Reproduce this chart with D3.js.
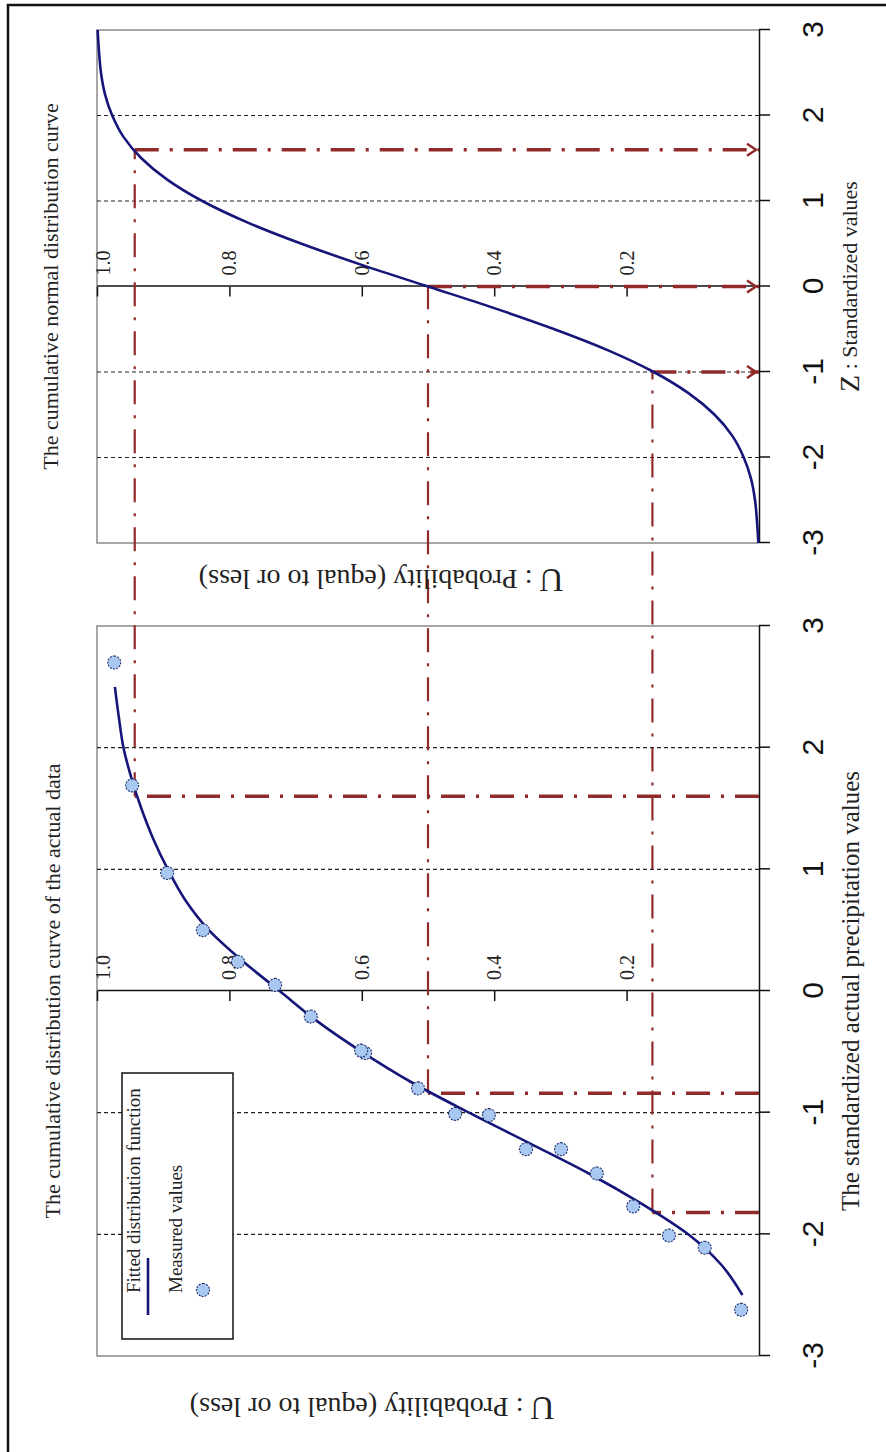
<!DOCTYPE html>
<html>
<head>
<meta charset="utf-8">
<script src="https://cdn.jsdelivr.net/npm/d3@7"></script>
<style>
  body { margin: 0; background: #fff; }
</style>
</head>
<body>
<div id="vis"></div>
<script>
// ticks
const zTicks = [-3, -2, -1, 0, 1, 2, 3];
const zGrid = [-2, -1, 1, 2];
const pTicks = [0.2, 0.4, 0.6, 0.8, 1.0];

// cumulative normal distribution curve (right panel)
const normalZ = [-3, -2.75, -2.5, -2.25, -2, -1.75, -1.5, -1.25, -1, -0.75, -0.5, -0.25, 0,
  0.25, 0.5, 0.75, 1, 1.25, 1.5, 1.75, 2, 2.25, 2.5, 2.75, 3];
const normalP = [0.001, 0.003, 0.006, 0.012, 0.023, 0.040, 0.067, 0.106, 0.159, 0.227, 0.309, 0.401, 0.5,
  0.599, 0.691, 0.773, 0.841, 0.894, 0.933, 0.960, 0.977, 0.988, 0.994, 0.997, 0.999];

// fitted distribution function of the actual data (left panel)
const fittedZ = [-2.5, -2.25, -2, -1.75, -1.5, -1.25, -1, -0.75, -0.5, -0.25, 0,
  0.25, 0.5, 0.75, 1, 1.25, 1.5, 1.75, 2, 2.25, 2.5];
const fittedP = [0.025, 0.057, 0.107, 0.177, 0.257, 0.347, 0.438, 0.525, 0.600, 0.667, 0.724,
  0.781, 0.831, 0.867, 0.893, 0.915, 0.933, 0.948, 0.960, 0.967, 0.973];

// measured values
const measuredZ = [-2.62, -2.11, -2.01, -1.77, -1.50, -1.30, -1.30, -1.02, -1.01, -0.80, -0.51, -0.49,
  -0.21, 0.05, 0.24, 0.50, 0.97, 1.69, 2.70];
const measuredP = [0.027, 0.082, 0.136, 0.190, 0.245, 0.299, 0.352, 0.408, 0.459, 0.515, 0.595, 0.601,
  0.677, 0.731, 0.787, 0.840, 0.894, 0.947, 0.974];

// reading lines: actual value -> probability -> standardized normal value
const readP = [0.943, 0.5, 0.161];
const readActualZ = [1.6, -0.84, -1.82];
const readNormalZ = [1.6, 0, -1];

const W = 886, H = 1452;
const serif = "'Liberation Serif','Times New Roman',serif";
const sans = "'Liberation Sans',Arial,sans-serif";
const navy = "#16167a";
const red = "#912b2b";

const svg = d3.select("#vis").append("svg")
  .attr("width", W)
  .attr("height", H)
  .style("display", "block");

svg.append("rect").attr("width", W).attr("height", H).attr("fill", "#fff");
svg.append("rect")
  .attr("x", 8).attr("y", 5)
  .attr("width", 900).attr("height", 1470)
  .attr("fill", "none").attr("stroke", "#111").attr("stroke-width", 2.5);

svg.append("defs").append("marker")
  .attr("id", "arrow")
  .attr("viewBox", "0 -8 14 16")
  .attr("refX", 13).attr("refY", 0)
  .attr("markerWidth", 14).attr("markerHeight", 16)
  .attr("markerUnits", "userSpaceOnUse")
  .attr("orient", "auto")
  .append("path")
  .attr("d", "M1,-6L10,0L1,6")
  .attr("fill", "none")
  .attr("stroke", red)
  .attr("stroke-width", 2.5);

// the chart is drawn upright and then turned a quarter turn to the left
const g = svg.append("g").attr("transform", `translate(0,${H}) rotate(-90)`);

// probability runs down the page of the upright chart, Z runs across
const p = d3.scaleLinear().domain([0, 1]).range([759, 97]);
const zActual = d3.scaleLinear().domain([-3, 3]).range([96, 826]);
const zNormal = d3.scaleLinear().domain([-3, 3]).range([909, 1422]);

function drawPanel(z) {
  const pg = g.append("g");

  // frame
  pg.append("path")
    .attr("d", `M${z(-3)},${p(0)}V${p(1)}H${z(3)}V${p(0)}`)
    .attr("fill", "none")
    .attr("stroke", "#8a8a8a")
    .attr("stroke-width", 1.5);

  // dotted grid at whole Z values
  pg.append("g").selectAll("line")
    .data(zGrid)
    .join("line")
    .attr("x1", (d) => z(d)).attr("x2", (d) => z(d))
    .attr("y1", p(1)).attr("y2", p(0))
    .attr("stroke", "#222")
    .attr("stroke-width", 1.2)
    .attr("stroke-dasharray", "4,3");

  // Z axis
  const ax = pg.append("g")
    .attr("transform", `translate(0,${p(0)})`)
    .call(
      d3.axisBottom(z)
        .tickValues(zTicks)
        .tickSizeInner(11)
        .tickSizeOuter(0)
        .tickPadding(32)
        .tickFormat((d) => String(d))
    );
  ax.select(".domain").attr("stroke", "#111").attr("stroke-width", 1.5);
  ax.selectAll(".tick line").attr("stroke", "#111").attr("stroke-width", 1.5);
  ax.selectAll("text")
    .attr("font-family", sans)
    .attr("font-size", 30)
    .attr("fill", "#111");

  // probability axis along Z = 0
  const pa = pg.append("g")
    .attr("transform", `translate(${z(0)},0)`)
    .call(
      d3.axisRight(p)
        .tickValues(pTicks)
        .tickSizeInner(-10)
        .tickSizeOuter(0)
        .tickPadding(11)
        .tickFormat(d3.format(".1f"))
    );
  pa.select(".domain").attr("stroke", "#111").attr("stroke-width", 1.5);
  pa.selectAll(".tick line").attr("stroke", "#111").attr("stroke-width", 1.5);
  pa.selectAll("text")
    .attr("font-family", serif)
    .attr("font-size", 20)
    .attr("fill", "#222")
    .attr("dy", (d) => (d === 1 ? "0.6em" : "0.32em"));

  return pg;
}

drawPanel(zActual);
drawPanel(zNormal);

// reading lines
const reads = readP.map((d, i) => ({ p: d, za: readActualZ[i], zn: readNormalZ[i] }));
const dash = "24,11,3,11";

g.append("g").selectAll("line")
  .data(reads)
  .join("line")
  .attr("x1", (d) => zActual(d.za)).attr("x2", (d) => zActual(d.za))
  .attr("y1", p(0)).attr("y2", (d) => p(d.p))
  .attr("stroke", red).attr("stroke-width", 3.5)
  .attr("stroke-dasharray", dash);

g.append("g").selectAll("line")
  .data(reads)
  .join("line")
  .attr("x1", (d) => zActual(d.za)).attr("x2", (d) => zNormal(d.zn))
  .attr("y1", (d) => p(d.p)).attr("y2", (d) => p(d.p))
  .attr("stroke", red).attr("stroke-width", 2.2)
  .attr("stroke-dasharray", dash);

g.append("g").selectAll("line")
  .data(reads)
  .join("line")
  .attr("x1", (d) => zNormal(d.zn)).attr("x2", (d) => zNormal(d.zn))
  .attr("y1", (d) => p(d.p)).attr("y2", p(0))
  .attr("stroke", red).attr("stroke-width", 3.5)
  .attr("stroke-dasharray", dash)
  .attr("marker-end", "url(#arrow)");

// curves
const normalLine = d3.line()
  .x((d, i) => zNormal(normalZ[i]))
  .y((d) => p(d))
  .curve(d3.curveMonotoneX);

g.append("path")
  .attr("d", normalLine(normalP))
  .attr("fill", "none")
  .attr("stroke", navy)
  .attr("stroke-width", 2.6);

const fittedLine = d3.line()
  .x((d, i) => zActual(fittedZ[i]))
  .y((d) => p(d))
  .curve(d3.curveMonotoneX);

g.append("path")
  .attr("d", fittedLine(fittedP))
  .attr("fill", "none")
  .attr("stroke", navy)
  .attr("stroke-width", 2.6);

// measured points
g.append("g").selectAll("circle")
  .data(measuredP)
  .join("circle")
  .attr("cx", (d, i) => zActual(measuredZ[i]))
  .attr("cy", (d) => p(d))
  .attr("r", 6.5)
  .attr("fill", "#a8c8f2")
  .attr("stroke", "#1e2d6b")
  .attr("stroke-width", 1.1)
  .attr("stroke-dasharray", "2,1.2");

// legend
const lg = g.append("g");
lg.append("rect")
  .attr("x", 113).attr("y", 122)
  .attr("width", 266).attr("height", 111)
  .attr("fill", "#fff")
  .attr("stroke", "#111")
  .attr("stroke-width", 1.5);
lg.append("text")
  .attr("x", 159).attr("y", 140)
  .attr("font-family", serif).attr("font-size", 19).attr("fill", "#222")
  .text("Fitted distribution function");
lg.append("line")
  .attr("x1", 137).attr("x2", 194)
  .attr("y1", 148).attr("y2", 148)
  .attr("stroke", navy).attr("stroke-width", 2.6);
lg.append("text")
  .attr("x", 159).attr("y", 182)
  .attr("font-family", serif).attr("font-size", 19).attr("fill", "#222")
  .text("Measured values");
lg.append("circle")
  .attr("cx", 162).attr("cy", 203).attr("r", 6.5)
  .attr("fill", "#a8c8f2")
  .attr("stroke", "#1e2d6b")
  .attr("stroke-width", 1.1)
  .attr("stroke-dasharray", "2,1.2");

// titles
g.append("text")
  .attr("x", zNormal(0)).attr("y", 50)
  .attr("text-anchor", "middle").attr("dominant-baseline", "central")
  .attr("font-family", serif).attr("font-size", 22).attr("fill", "#222")
  .text("The cumulative normal distribution curve");

g.append("text")
  .attr("x", zActual(0)).attr("y", 52)
  .attr("text-anchor", "middle").attr("dominant-baseline", "central")
  .attr("font-family", serif).attr("font-size", 22).attr("fill", "#222")
  .text("The cumulative distribution curve of the actual data");

const zTitle = g.append("text")
  .attr("x", zNormal(0)).attr("y", 849)
  .attr("text-anchor", "middle").attr("dominant-baseline", "central")
  .attr("font-family", serif).attr("fill", "#222");
zTitle.append("tspan").attr("font-size", 28).text("Z");
zTitle.append("tspan").attr("font-size", 22).text(" : Standardized values");

g.append("text")
  .attr("x", zActual(0)).attr("y", 850)
  .attr("text-anchor", "middle").attr("dominant-baseline", "central")
  .attr("font-family", serif).attr("font-size", 25).attr("fill", "#222")
  .text("The standardized actual precipitation values");

[[872, 381], [44, 372]].forEach(([u, v]) => {
  const t = g.append("text")
    .attr("transform", `translate(${u},${v}) rotate(-90)`)
    .attr("text-anchor", "middle").attr("dominant-baseline", "central")
    .attr("font-family", serif).attr("fill", "#222");
  t.append("tspan").attr("font-size", 33).text("U");
  t.append("tspan").attr("font-size", 28).text(" : Probability (equal to or less)");
});
</script>
</body>
</html>
